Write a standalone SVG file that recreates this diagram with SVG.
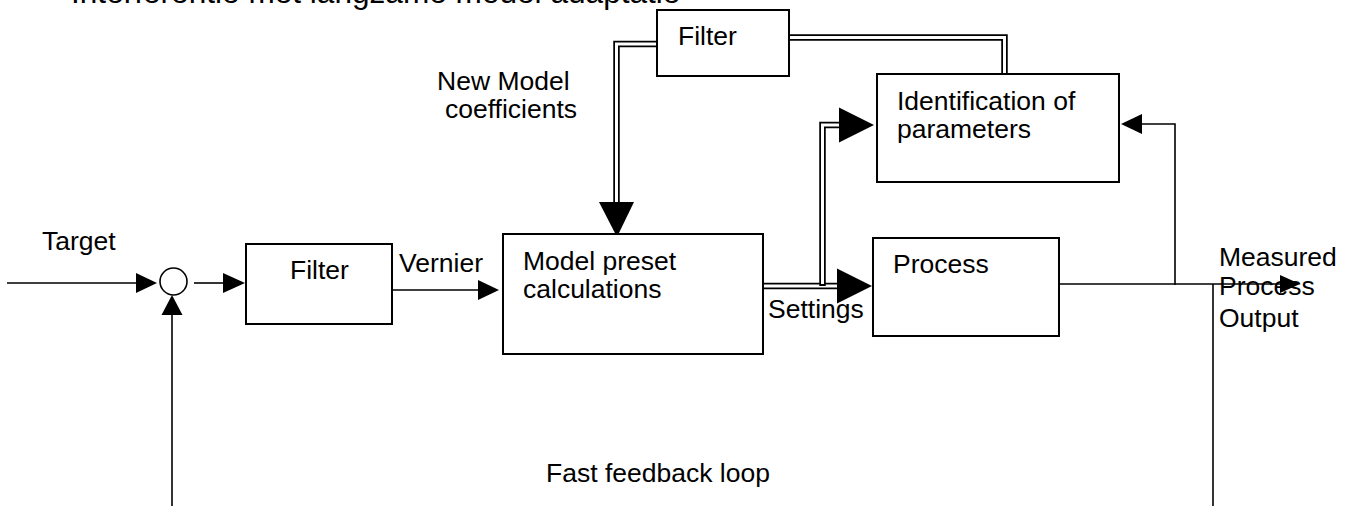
<svg xmlns="http://www.w3.org/2000/svg" width="1353" height="506" viewBox="0 0 1353 506">
<style>
.box{fill:#fff;stroke:#000;stroke-width:2}
.t{font-family:"Liberation Sans",Arial,sans-serif;font-size:26.5px;fill:#000}
.ln{fill:none;stroke:#000;stroke-width:1.6}
.dblo{fill:none;stroke:#000;stroke-width:6.5}
.dbli{fill:none;stroke:#fff;stroke-width:3}
.ah{fill:#000}
</style>
<rect width="1353" height="506" fill="#fff"/>
<text class="t" x="71" y="3" style="font-size:31.6px">Interferentie met langzame model adaptatie</text>
<g id="connectors">
  <!-- double lines -->
  <path class="dblo" d="M657,44 H616.5 V203"/>
  <path class="dbli" d="M658,44 H616.5 V204"/>
  <path class="dblo" d="M789,37.5 H1004.5 V74"/>
  <path class="dbli" d="M788,37.5 H1004.5 V75"/>
  <path class="dblo" d="M763,286 H838"/>
  <path class="dbli" d="M762,286 H839"/>
  <path class="dblo" d="M822.5,286 V125 H840"/>
  <path class="dbli" d="M822.5,284 V125 H841"/>
  <polygon class="ah" points="599,202 634,202 617,237"/>
  <polygon class="ah" points="837,268.5 837,303.5 872,286"/>
  <polygon class="ah" points="839,107.5 839,142.5 874,125"/>
  <!-- single lines -->
  <path class="ln" d="M7,283 H140"/>
  <polygon class="ah" points="136,273 136,293 157,283"/>
  <path class="ln" d="M194,283 H226"/>
  <polygon class="ah" points="223,273 223,293 245,283"/>
  <path class="ln" d="M172,506 V312"/>
  <polygon class="ah" points="161.5,315 182.5,315 172,295"/>
  <path class="ln" d="M390,290 H481"/>
  <polygon class="ah" points="478,280 478,300 499,290"/>
  <path class="ln" d="M1057,284 H1283"/>
  <polygon class="ah" points="1280,275 1280,293 1300,284"/>
  <path class="ln" d="M1175,285 V124 H1139"/>
  <polygon class="ah" points="1142,114 1142,134 1121,124"/>
  <path class="ln" d="M1213,284 V506"/>
</g>
<g id="sum">
  <circle cx="173.5" cy="281.5" r="13.5" fill="#fff" stroke="#000" stroke-width="1.6"/>
</g>
<g id="filter-top">
  <rect class="box" x="657" y="10" width="132" height="66"/>
  <text class="t" x="678" y="45">Filter</text>
</g>
<g id="filter">
  <rect class="box" x="246" y="244" width="146" height="80"/>
  <text class="t" x="290" y="279">Filter</text>
</g>
<g id="model">
  <rect class="box" x="503" y="234" width="260" height="120"/>
  <text class="t" x="523" y="270">Model preset</text>
  <text class="t" x="523" y="298">calculations</text>
</g>
<g id="process">
  <rect class="box" x="873" y="238" width="186" height="98"/>
  <text class="t" x="893" y="273">Process</text>
</g>
<g id="ident">
  <rect class="box" x="877" y="74" width="242" height="108"/>
  <text class="t" x="897" y="110">Identification of</text>
  <text class="t" x="897" y="138">parameters</text>
</g>
<g id="labels">
  <text class="t" x="42" y="250">Target</text>
  <text class="t" x="399" y="272">Vernier</text>
  <text class="t" x="768" y="318">Settings</text>
  <text class="t" x="437" y="90">New Model</text>
  <text class="t" x="445" y="118">coefficients</text>
  <text class="t" x="1219" y="266">Measured</text>
  <text class="t" x="1219" y="295">Process</text>
  <text class="t" x="1219" y="327">Output</text>
  <text class="t" x="546" y="482">Fast feedback loop</text>
</g>
</svg>
